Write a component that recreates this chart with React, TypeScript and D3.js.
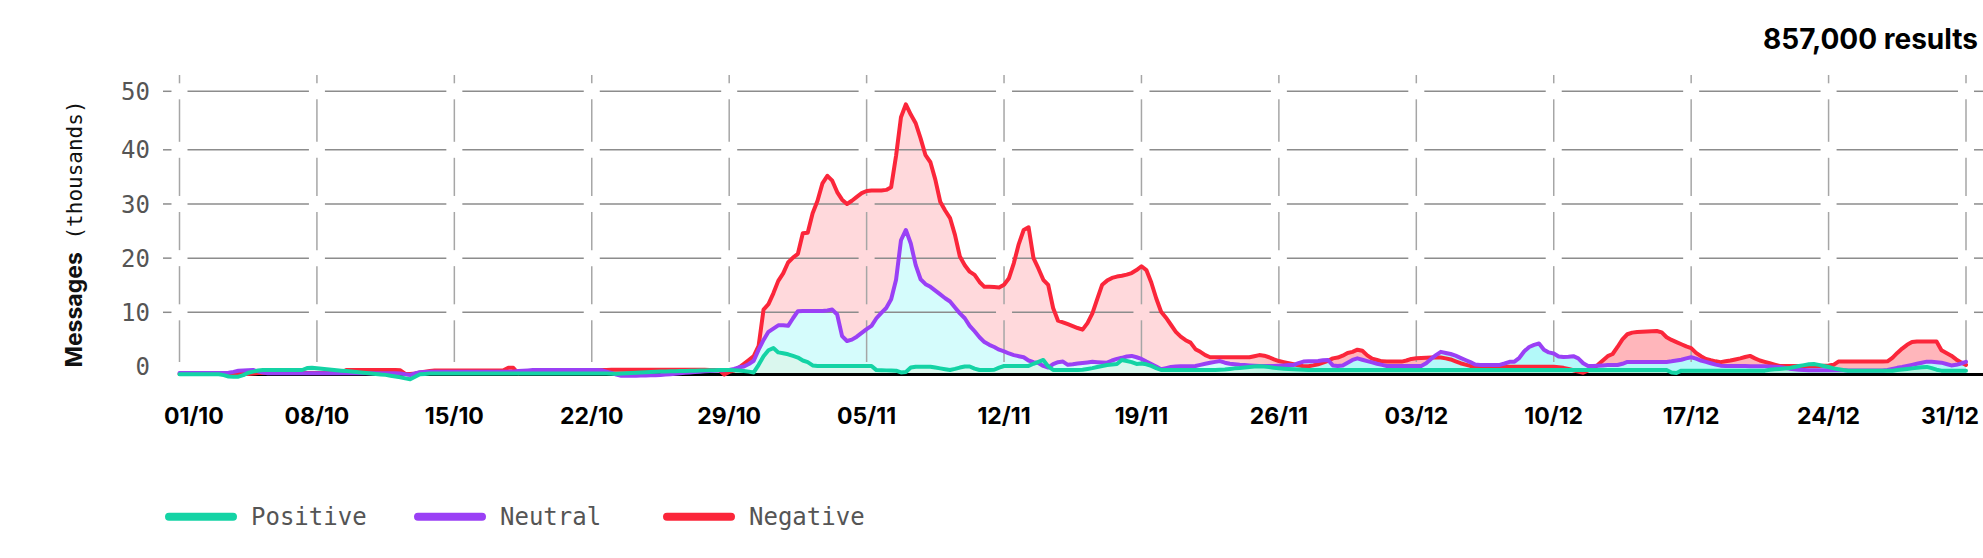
import React from 'react';
import * as d3 from 'd3';

// one value every 6 hours from 01/10 to 31/12, thousands of messages
const startDate = new Date(Date.UTC(2023, 9, 1));
const endDate = new Date(Date.UTC(2023, 11, 31));
const stepHours = 6;

const positive = [
  -1.45,-1.45,-1.45,-1.45, -1.45,-1.45,-1.45,-1.45, -1.45,-1.6,-1.85,-1.88, -1.88,-1.6,-1.15,-0.95, -0.75,-0.65,-0.65,-0.65, -0.65,-0.65,-0.65,-0.65, -0.65,-0.65,-0.3,-0.25,
  -0.33,-0.42,-0.5,-0.6, -0.7,-0.78,-0.85,-0.93, -1.0,-1.1,-1.2,-1.3, -1.38,-1.48,-1.55,-1.7, -1.85,-2.0,-2.2,-2.35, -1.9,-1.45,-1.38,-1.3, -1.3,-1.3,-1.3,-1.3,
  -1.3,-1.3,-1.3,-1.3, -1.3,-1.3,-1.3,-1.3, -1.3,-1.3,-1.3,-1.3, -1.3,-1.3,-1.3,-1.3, -1.3,-1.3,-1.3,-1.3, -1.3,-1.3,-1.3,-1.3, -1.3,-1.3,-1.3,-1.3,
  -1.3,-1.3,-1.3,-1.3, -1.35,-1.35,-1.3,-1.25, -1.2,-1.15,-1.1,-1.05, -1.0,-0.98,-0.95,-0.92, -0.9,-0.88,-0.85,-0.82, -0.8,-0.78,-0.75,-0.72, -0.7,-0.68,-0.66,-0.65,
  -0.65,-0.7,-0.75,-0.85, -0.95,-1.1,0.3,1.9, 3.0,3.4,2.6,2.45, 2.25,1.95,1.65,1.1, 0.8,0.2,0.09,0.09, 0.09,0.09,0.09,0.09, 0.09,0.09,0.09,0.09,
  0.09,0.09,-0.67,-0.7, -0.72,-0.75,-0.77,-1.1, -1.0,-0.2,-0.04,-0.04, -0.04,-0.05,-0.2,-0.35, -0.5,-0.65,-0.45,-0.2, 0.0,0.0,-0.4,-0.65, -0.65,-0.65,-0.6,-0.2,
  0.09,0.09,0.09,0.09, 0.09,0.1,0.5,0.85, 1.2,0.0,-0.65,-0.65, -0.65,-0.65,-0.65,-0.65, -0.6,-0.45,-0.3,-0.1, 0.1,0.28,0.35,0.45, 1.2,1.0,0.8,0.46,
  0.55,0.4,0.1,-0.3, -0.65,-0.65,-0.65,-0.65, -0.65,-0.65,-0.65,-0.65, -0.65,-0.65,-0.65,-0.65, -0.6,-0.55,-0.45,-0.35, -0.3,-0.2,-0.1,0.0, 0.05,0.0,-0.1,-0.25,
  -0.35,-0.4,-0.45,-0.5, -0.55,-0.6,-0.65,-0.65, -0.65,-0.65,-0.65,-0.65, -0.65,-0.65,-0.65,-0.65, -0.65,-0.65,-0.65,-0.65, -0.65,-0.65,-0.65,-0.65, -0.65,-0.65,-0.65,-0.65,
  -0.65,-0.65,-0.65,-0.65, -0.65,-0.65,-0.65,-0.65, -0.65,-0.65,-0.65,-0.65, -0.65,-0.65,-0.65,-0.65, -0.65,-0.65,-0.65,-0.65, -0.65,-0.65,-0.65,-0.65, -0.65,-0.65,-0.65,-0.65,
  -0.65,-0.65,-0.65,-0.65, -0.65,-0.65,-0.65,-0.65, -0.65,-0.65,-0.65,-0.65, -0.65,-0.65,-0.65,-0.65, -0.65,-0.65,-0.65,-0.65, -0.65,-0.65,-0.65,-0.65, -1.1,-1.2,-0.77,-0.77,
  -0.77,-0.77,-0.77,-0.77, -0.77,-0.77,-0.77,-0.77, -0.77,-0.77,-0.77,-0.77, -0.77,-0.77,-0.77,-0.77, -0.6,-0.5,-0.45,-0.38, -0.3,-0.1,0.1,0.25, 0.4,0.45,0.3,0.1,
  -0.1,-0.35,-0.5,-0.65, -0.77,-0.77,-0.77,-0.77, -0.77,-0.77,-0.77,-0.77, -0.77,-0.77,-0.65,-0.55, -0.45,-0.35,-0.25,-0.15, -0.08,-0.3,-0.6,-0.77, -0.77,-0.77,-0.77,-0.77,
  -0.77,
];

const neutral = [
  -1.2,-1.2,-1.2,-1.2, -1.2,-1.2,-1.2,-1.2, -1.2,-1.2,-1.15,-1.0, -0.8,-0.75,-0.7,-0.65, -0.9,-1.1,-1.25,-1.25, -1.25,-1.25,-1.25,-1.25, -1.25,-1.25,-1.25,-1.25,
  -1.25,-1.25,-1.25,-1.25, -1.25,-1.25,-1.25,-1.25, -1.25,-1.25,-1.25,-1.25, -1.25,-1.25,-1.25,-1.25, -1.25,-1.3,-1.45,-1.57, -1.3,-1.05,-1.0,-0.96, -0.96,-0.96,-0.96,-0.96,
  -0.96,-0.96,-0.96,-0.96, -0.96,-0.96,-0.96,-0.96, -0.96,-0.96,-0.96,-0.96, -0.96,-0.85,-0.78,-0.72, -0.65,-0.65,-0.65,-0.65, -0.65,-0.65,-0.65,-0.65, -0.65,-0.65,-0.65,-0.65,
  -0.65,-0.65,-0.7,-0.95, -1.2,-1.5,-1.7,-1.7, -1.7,-1.7,-1.65,-1.65, -1.6,-1.6,-1.57,-1.5, -1.45,-1.35,-1.25,-1.15, -1.1,-1.0,-0.96,-0.9, -0.85,-0.8,-0.75,-0.7,
  -0.65,-0.45,-0.15,0.0, 0.45,1.05,3.1,4.9, 6.4,7.0,7.6,7.6, 7.5,8.9,10.2,10.24, 10.24,10.24,10.24,10.24, 10.35,10.5,9.6,5.6, 4.7,4.95,5.5,6.2,
  6.9,7.5,8.9,9.9, 10.8,12.4,16.0,23.3, 25.2,22.7,18.7,16.1, 15.2,14.7,14.0,13.3, 12.6,12.0,10.9,9.8, 8.9,7.5,6.5,5.4, 4.5,4.0,3.6,3.1,
  2.8,2.4,2.1,1.9, 1.7,1.1,0.8,0.65, 0.1,-0.2,0.45,0.8, 0.9,0.3,0.4,0.55, 0.65,0.75,0.87,0.8, 0.75,0.7,1.1,1.4, 1.6,1.85,1.95,1.7,
  1.4,0.9,0.45,0.0, -0.5,-0.3,-0.1,0.0, 0.05,0.05,0.05,0.08, 0.3,0.5,0.7,0.85, 1.0,0.7,0.5,0.4, 0.3,0.25,0.2,0.15, 0.1,0.1,0.1,0.1,
  0.15,0.2,0.25,0.28, 0.6,0.9,0.95,0.97, 1.0,1.15,1.2,0.2, 0.09,0.2,0.7,1.2, 1.5,1.25,1.0,0.75, 0.5,0.3,0.1,0.09, 0.09,0.09,0.09,0.09,
  0.09,0.09,0.6,1.4, 2.1,2.7,2.5,2.3, 2.0,1.6,1.2,0.8, 0.35,0.28,0.28,0.28, 0.28,0.28,0.55,0.85, 0.89,1.6,2.8,3.6, 4.0,4.25,3.1,2.6,
  2.4,1.85,1.75,1.8, 1.9,1.5,0.6,0.09, 0.1,0.15,0.2,0.25, 0.25,0.27,0.5,0.83, 0.83,0.83,0.83,0.83, 0.83,0.83,0.83,0.83, 0.95,1.1,1.25,1.5,
  1.7,1.45,1.1,0.85, 0.6,0.35,0.15,0.09, 0.07,0.07,0.07,0.07, 0.05,0.05,0.05,0.05, 0.0,-0.04,-0.1,-0.25, -0.4,-0.5,-0.6,-0.65, -0.7,-0.7,-0.7,-0.7,
  -0.7,-0.7,-0.7,-0.7, -0.75,-0.75,-0.75,-0.75, -0.75,-0.75,-0.75,-0.75, -0.65,-0.45,-0.25,-0.1, 0.1,0.3,0.5,0.7, 0.89,0.85,0.8,0.7, 0.45,0.2,0.3,0.55,
  0.85,
];

const negative = [
  -1.4,-1.4,-1.4,-1.4, -1.4,-1.4,-1.4,-1.4, -1.4,-1.4,-1.4,-1.4, -1.4,-1.4,-1.4,-1.3, -1.2,-1.2,-1.2,-1.2, -1.2,-1.2,-1.2,-1.2, -1.2,-1.2,-1.2,-1.2,
  -1.2,-1.2,-1.2,-1.2, -1.2,-1.2,-0.65,-0.65, -0.65,-0.65,-0.65,-0.65, -0.65,-0.65,-0.65,-0.65, -0.65,-0.7,-1.35,-1.4, -1.3,-1.1,-0.95,-0.85, -0.75,-0.75,-0.75,-0.75,
  -0.75,-0.75,-0.75,-0.75, -0.75,-0.75,-0.75,-0.75, -0.75,-0.75,-0.7,-0.25, -0.25,-1.25,-1.05,-1.0, -1.0,-1.0,-1.0,-1.0, -1.0,-1.0,-1.0,-1.0, -1.0,-1.0,-1.0,-1.0,
  -0.85,-0.7,-0.65,-0.65, -0.6,-0.6,-0.6,-0.6, -0.6,-0.6,-0.6,-0.6, -0.6,-0.6,-0.6,-0.6, -0.6,-0.6,-0.6,-0.6, -0.6,-0.6,-0.6,-0.6, -0.65,-0.65,-0.7,-1.5,
  -1.0,-0.75,-0.2,0.5, 1.2,1.9,3.8,10.5, 11.5,13.5,15.8,17.2, 19.2,20.1,20.8,24.6, 24.7,28.3,30.6,33.8, 35.2,34.3,32.2,30.8, 30.0,30.6,31.3,32.0,
  32.4,32.5,32.5,32.5, 32.6,33.1,38.9,46.0, 48.4,46.5,44.9,42.1, 39.0,37.7,34.5,30.4, 28.8,27.4,24.3,20.3, 18.7,17.5,16.9,15.6, 14.7,14.7,14.65,14.6,
  15.1,16.3,19.1,22.6, 25.2,25.7,20.0,18.1, 16.0,15.05,10.8,8.45, 8.15,7.8,7.45,7.1, 6.8,8.0,9.8,12.5, 15.1,15.85,16.35,16.6, 16.75,16.95,17.25,17.8,
  18.5,17.8,15.5,12.6, 10.1,9.0,7.7,6.4, 5.5,4.85,4.4,3.2, 2.7,2.1,1.7,1.7, 1.7,1.7,1.7,1.7, 1.7,1.7,1.7,1.9, 2.1,2.0,1.7,1.3,
  1.0,0.8,0.6,0.4, 0.2,0.05,0.05,0.2, 0.4,0.7,1.05,1.5, 1.65,2.0,2.5,2.7, 3.1,2.9,2.05,1.45, 1.2,0.95,0.9,0.9, 0.9,0.9,1.1,1.4,
  1.5,1.55,1.6,1.65, 1.7,1.65,1.5,1.3, 0.95,0.6,0.35,0.1, -0.05,-0.05,-0.05,-0.05, -0.05,-0.05,-0.05,-0.05, -0.05,-0.05,-0.05,-0.05, -0.05,-0.05,-0.05,-0.05,
  -0.05,-0.15,-0.25,-0.45, -0.7,-0.95,-1.15,-0.75, -0.35,0.3,1.1,1.9, 2.3,3.6,5.0,5.95, 6.25,6.35,6.4,6.45, 6.5,6.55,6.3,5.4, 4.9,4.5,4.1,3.7,
  3.4,2.5,1.9,1.4, 1.15,0.95,0.8,0.95, 1.1,1.3,1.5,1.75, 1.95,1.5,1.1,0.85, 0.6,0.35,0.1,0.1, 0.1,0.1,0.1,0.1, 0.1,0.1,0.1,0.15,
  0.2,0.3,0.9,0.9, 0.9,0.9,0.9,0.9, 0.9,0.9,0.9,0.9, 0.95,1.6,2.5,3.3, 4.0,4.5,4.6,4.6, 4.6,4.6,4.6,3.0, 2.5,2.0,1.3,0.75,
  0.3,
];

const seriesNames = ['Positive', 'Neutral', 'Negative'];
const yTickValues = [0, 10, 20, 30, 40, 50.8];
const yTickLabels = ['0', '10', '20', '30', '40', '50'];
const yMin = -1.5;
const yMax = 50.8;
const resultsLabel = '857,000 results';

const width = 1983;
const height = 558;

const lineColors = { Positive: '#14d3a5', Neutral: '#9a40f5', Negative: '#fb263a' };
const fillColors = {
  Positive: ['#daf7ee', '#b4f0df'],
  Neutral: ['#d5fcfc', '#b3f9f9'],
  Negative: ['#ffd9dc', '#ffb6bb'],
};

const monoFont = "'DejaVu Sans Mono', 'Liberation Mono', monospace";
const sansFont = "Inter, Roboto, 'Noto Sans', sans-serif";

export default function App() {
  const ref = React.useRef(null);

  React.useEffect(() => {
    const svg = d3.select(ref.current);
    svg.selectAll('*').remove();

    const x = d3.scaleUtc().domain([startDate, endDate]).range([179.5, 1966]);
    const y = d3.scaleLinear().domain([yMin, yMax]).range([374.6, 91.3]);

    const dateAt = (i) => new Date(+startDate + i * stepHours * 3600 * 1000);
    const weeks = d3.utcDay.range(startDate, d3.utcDay.offset(endDate, 1), 7);
    const weekX = weeks.map((d) => x(d));
    const gridLeft = x(startDate) - 16.5;
    const gridTop = 75;
    const gridBottom = 362;
    const gap = 8;

    const series = [
      { name: 'Negative', values: negative },
      { name: 'Neutral', values: neutral },
      { name: 'Positive', values: positive },
    ];

    // fills get stronger from late November on
    const defs = svg.append('defs');
    const fadeFrom = 53 / 91;
    const fadeTo = 56 / 91;
    series.forEach((s) => {
      const grad = defs
        .append('linearGradient')
        .attr('id', 'fill-' + s.name)
        .attr('gradientUnits', 'userSpaceOnUse')
        .attr('x1', x(startDate))
        .attr('x2', x(endDate))
        .attr('y1', 0)
        .attr('y2', 0);
      const [light, strong] = fillColors[s.name];
      grad.append('stop').attr('offset', 0).attr('stop-color', light);
      grad.append('stop').attr('offset', fadeFrom).attr('stop-color', light);
      grad.append('stop').attr('offset', fadeTo).attr('stop-color', strong);
      grad.append('stop').attr('offset', 1).attr('stop-color', strong);
    });

    const area = d3
      .area()
      .x((d, i) => x(dateAt(i)))
      .y0(y(yMin))
      .y1((d) => y(d));

    const line = d3
      .line()
      .x((d, i) => x(dateAt(i)))
      .y((d) => y(d));

    // areas
    svg
      .append('g')
      .selectAll('path')
      .data(series)
      .enter()
      .append('path')
      .attr('d', (d) => area(d.values))
      .attr('fill', (d) => 'url(#fill-' + d.name + ')');

    // grid, broken where the lines cross
    const grid = svg.append('g');
    const hLines = yTickValues.filter((v) => v !== 0);
    hLines.forEach((v) => {
      let from = gridLeft;
      const segs = [];
      weekX.forEach((wx) => {
        segs.push([from, wx - gap]);
        from = wx + gap;
      });
      segs.push([from, width]);
      grid
        .selectAll(null)
        .data(segs)
        .enter()
        .append('line')
        .attr('x1', (d) => d[0])
        .attr('x2', (d) => d[1])
        .attr('y1', y(v))
        .attr('y2', y(v))
        .attr('stroke', '#8c8c8c')
        .attr('stroke-width', 1.5);
    });
    const hY = hLines.map((v) => y(v)).sort((a, b) => a - b);
    const vSegs = [];
    let from = gridTop;
    hY.forEach((hy) => {
      vSegs.push([from, hy - gap]);
      from = hy + gap;
    });
    vSegs.push([from, gridBottom]);
    weekX.forEach((wx) => {
      grid
        .selectAll(null)
        .data(vSegs)
        .enter()
        .append('line')
        .attr('x1', wx)
        .attr('x2', wx)
        .attr('y1', (d) => d[0])
        .attr('y2', (d) => d[1])
        .attr('stroke', '#a6a6a6')
        .attr('stroke-width', 1.5);
    });

    // baseline
    svg
      .append('line')
      .attr('x1', x(startDate))
      .attr('x2', width)
      .attr('y1', y(yMin))
      .attr('y2', y(yMin))
      .attr('stroke', '#000')
      .attr('stroke-width', 3);

    // lines
    svg
      .append('g')
      .selectAll('path')
      .data(series)
      .enter()
      .append('path')
      .attr('d', (d) => line(d.values))
      .attr('fill', 'none')
      .attr('stroke', (d) => lineColors[d.name])
      .attr('stroke-width', 4)
      .attr('stroke-linejoin', 'round')
      .attr('stroke-linecap', 'round');

    // y ticks
    svg
      .append('g')
      .selectAll('text')
      .data(yTickValues)
      .enter()
      .append('text')
      .attr('x', 150)
      .attr('y', (d) => y(d))
      .attr('dy', '0.36em')
      .attr('text-anchor', 'end')
      .attr('font-family', monoFont)
      .attr('font-size', 24)
      .attr('fill', '#555')
      .text((d, i) => yTickLabels[i]);

    // x ticks, kept inside the chart
    const fmt = d3.utcFormat('%d/%m');
    svg
      .append('g')
      .selectAll('text')
      .data(weeks)
      .enter()
      .append('text')
      .attr('x', (d) => x(d))
      .attr('y', 424)
      .attr('text-anchor', 'middle')
      .attr('font-family', sansFont)
      .attr('font-weight', 700)
      .attr('font-size', 23)
      .attr('fill', '#000')
      .text((d) => fmt(d))
      .each(function () {
        const w = this.getComputedTextLength();
        let cx = +this.getAttribute('x');
        if (cx - w / 2 < 164) cx = 164 + w / 2;
        if (cx + w / 2 > 1979) cx = 1979 - w / 2;
        this.setAttribute('x', cx);
      });

    // y axis title
    const yt = svg
      .append('text')
      .attr('transform', 'translate(82,234) rotate(-90)')
      .attr('text-anchor', 'middle')
      .attr('fill', '#111');
    yt.append('tspan').attr('font-family', sansFont).attr('font-weight', 700).attr('font-size', 23).text('Messages');
    yt.append('tspan').attr('font-family', monoFont).attr('font-size', 21).text(' (thousands)');

    // results count
    svg
      .append('text')
      .attr('x', 1978)
      .attr('y', 48.5)
      .attr('text-anchor', 'end')
      .attr('font-family', sansFont)
      .attr('font-weight', 700)
      .attr('font-size', 28)
      .attr('fill', '#000')
      .text(resultsLabel);

    // legend
    const legend = svg
      .append('g')
      .selectAll('g')
      .data(seriesNames)
      .enter()
      .append('g')
      .attr('transform', (d, i) => `translate(${165 + i * 249},516.7)`);
    legend
      .append('line')
      .attr('x1', 4)
      .attr('x2', 68)
      .attr('stroke', (d) => lineColors[d])
      .attr('stroke-width', 8)
      .attr('stroke-linecap', 'round');
    legend
      .append('text')
      .attr('x', 86)
      .attr('y', 8)
      .attr('font-family', monoFont)
      .attr('font-size', 24)
      .attr('fill', '#555')
      .text((d) => d);
  }, []);

  return (
    <div>
      <style>{'body{margin:0}'}</style>
      <svg ref={ref} width={width} height={height} style={{ display: 'block' }} />
    </div>
  );
}
